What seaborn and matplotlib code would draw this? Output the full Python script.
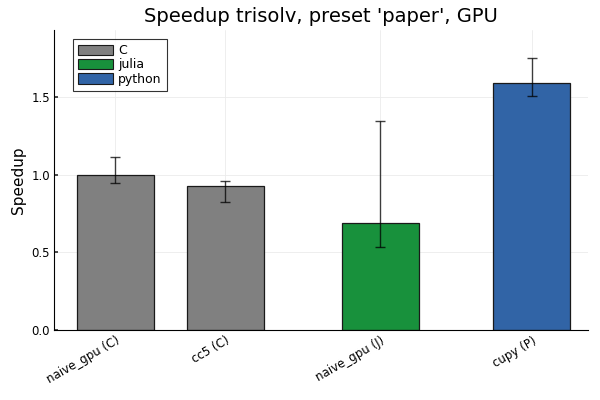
import matplotlib
matplotlib.use("Agg")
import matplotlib.pyplot as plt
import seaborn as sns
import pandas as pd
from matplotlib.patches import Patch

labels = ["naive_gpu (C)", "cc5 (C)", "naive_gpu (J)", "cupy (P)"]
langs = ["C", "C", "julia", "python"]
positions = [1.0, 2.0, 3.41, 4.79]
speedup = [1.0, 0.927, 0.688, 1.592]
err_low = [0.947, 0.828, 0.535, 1.512]
err_high = [1.115, 0.963, 1.350, 1.757]

lang_order = ["C", "julia", "python"]
lang_colors = {"C": "#808080", "julia": "#18913c", "python": "#3164a6"}

df = pd.DataFrame({"pos": positions, "speedup": speedup, "lang": langs, "label": labels})

sns.set_theme(style="white")
plt.rcParams['font.family'] = ['DejaVu Sans']
plt.rcParams['text.color'] = 'black'
plt.rcParams['axes.labelcolor'] = 'black'
plt.rcParams['xtick.color'] = 'black'
plt.rcParams['ytick.color'] = 'black'

fig = plt.figure(figsize=(6, 4), dpi=100)
ax = fig.add_axes([0.09, 0.175, 0.89, 0.75])

sns.barplot(data=df, x="pos", y="speedup", hue="lang", hue_order=lang_order,
            palette=lang_colors, native_scale=True, dodge=False, width=0.7,
            saturation=1, errorbar=None, edgecolor="#1a1a1a", linewidth=0.9,
            ax=ax, legend=False, zorder=2)

yerr = [[s - lo for s, lo in zip(speedup, err_low)],
        [hi - s for s, hi in zip(speedup, err_high)]]
ax.errorbar(positions, speedup, yerr=yerr, fmt="none", ecolor="black",
            elinewidth=1.0, capsize=3.5, capthick=1.0, alpha=0.75, zorder=3)

ax.set_xlim(0.445, 5.30)
ax.set_ylim(0, 1.935)
ax.set_xticks(positions)
ax.set_xticklabels(labels, rotation=30, ha="right", rotation_mode="anchor", fontsize=8.5)
ax.set_yticks([0.0, 0.5, 1.0, 1.5])
ax.set_yticklabels(["0.0", "0.5", "1.0", "1.5"], fontsize=8.5)
ax.tick_params(axis="both", which="both", length=3, direction="in", color="#333333",
               bottom=True, left=True, pad=3)
ax.grid(True, color="#ebebeb", linewidth=0.6, zorder=0)
ax.set_axisbelow(True)

for side in ["top", "right"]:
    ax.spines[side].set_visible(False)
for side in ["left", "bottom"]:
    ax.spines[side].set_color("black")
    ax.spines[side].set_linewidth(0.8)

ax.set_xlabel("")
ax.set_ylabel("Speedup", fontsize=11, color="black")
ax.set_title("Speedup trisolv, preset 'paper', GPU", fontsize=14, pad=6, color="black")

handles = [Patch(facecolor=lang_colors[l], edgecolor="#1a1a1a", linewidth=0.8, label=l)
           for l in lang_order]
leg = ax.legend(handles=handles, loc="upper left", bbox_to_anchor=(0.03, 0.98),
                fontsize=9, frameon=True, fancybox=False, edgecolor="black",
                handlelength=2.8, handleheight=0.9, labelspacing=0.1,
                handletextpad=0.4, borderpad=0.45, borderaxespad=0.2)
leg.get_frame().set_linewidth(0.8)
for t in leg.get_texts():
    t.set_color("black")

fig.savefig("out.png", dpi=100)
